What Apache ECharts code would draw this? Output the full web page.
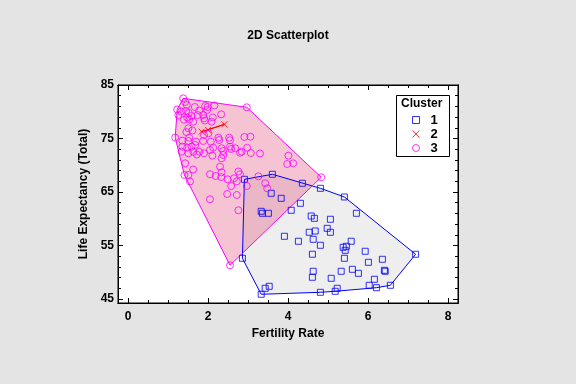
<!DOCTYPE html>
<html><head><meta charset="utf-8">
<script src="https://cdn.jsdelivr.net/npm/echarts@6/dist/echarts.min.js"></script>
<style>html,body{margin:0;padding:0;background:#e4e4e4}#c{width:576px;height:384px}</style>
</head><body><div id="c"></div>
<script>
const chartTitle = '2D Scatterplot';
const xName = 'Fertility Rate';
const yName = 'Life Expectancy (Total)';
const legendTitle = 'Cluster';
const clusterNames = ['1', '2', '3'];
const xTickLabels = [0, 2, 4, 6, 8];
const yTickLabels = [45, 55, 65, 75, 85];
const xMinorTicks = [0,0.5,1,1.5,2,2.5,3,3.5,4,4.5,5,5.5,6,6.5,7,7.5,8];
const yMinorTicks = [45,47,49,51,53,55,57,59,61,63,65,67,69,71,73,75,77,79,81,83,85];

// Cluster 1 (blue squares): [fertility, life expectancy]
const cluster1 = [
[2.91,67.37],[3.61,68.31],[4.36,66.63],[4.81,65.69],[5.41,64.07],[3.58,64.76],[3.83,63.82],[4.31,62.89],
[3.33,61.39],[3.36,61.02],[3.51,61.02],[4.08,61.58],[5.71,61.02],[4.58,60.51],[4.66,60.08],[5.06,59.90],
[4.98,58.21],[5.06,57.47],[4.53,57.47],[4.68,57.71],[3.91,56.72],[4.26,55.79],[4.63,56.16],[5.58,55.79],
[4.81,55.04],[5.38,54.66],[5.46,54.85],[5.43,54.10],[5.93,53.92],[4.61,53.36],[7.19,53.36],[2.86,52.61],
[5.41,52.61],[6.36,52.42],[6.01,51.86],[4.63,50.18],[5.33,50.18],[5.61,50.55],[5.76,49.80],[6.41,50.36],
[6.43,50.18],[4.61,49.06],[5.08,48.87],[6.16,48.68],[6.03,47.56],[6.56,47.56],[6.21,47.11],[3.53,47.37],
[3.43,47.00],[5.23,47.00],[5.18,46.44],[3.33,45.88],[4.81,46.25]
];
// Cluster 2 (red crosses)
const cluster2 = [[1.84,76.27],[2.00,76.60],[2.41,77.65]];
// Cluster 3 (magenta circles)
const cluster3 = [
[1.38,82.51],[1.43,81.82],[1.47,81.26],[1.67,80.89],[1.78,80.23],[1.93,81.07],[1.99,80.89],[2.16,81.17],
[1.98,80.33],[1.23,80.42],[1.33,80.05],[1.45,80.14],[1.52,79.77],[1.26,79.39],[1.48,78.93],[1.53,78.55],
[1.40,78.51],[1.88,79.39],[1.90,78.78],[1.92,78.36],[2.12,78.93],[2.33,79.52],[1.74,79.39],[2.97,80.83],
[1.63,78.14],[2.09,78.14],[1.59,79.21],[1.51,76.91],[1.61,76.50],[1.46,76.21],[1.18,75.19],[1.53,75.15],
[1.51,74.53],[2.01,75.97],[1.88,74.53],[2.26,75.15],[2.28,74.72],[2.53,75.15],[2.55,74.66],[2.91,75.28],
[3.06,75.34],[1.36,74.59],[2.07,74.40],[2.13,73.28],[1.70,74.40],[1.36,73.47],[1.48,73.28],[1.59,73.47],
[1.68,73.79],[1.63,72.53],[1.78,72.53],[1.90,72.23],[1.51,72.23],[1.34,72.53],[2.05,72.85],[2.34,73.17],
[2.38,72.66],[2.55,73.47],[2.58,73.04],[2.68,73.17],[2.84,72.53],[2.98,73.28],[3.07,72.29],[3.30,72.20],
[2.38,71.92],[2.34,71.30],[2.11,71.79],[1.72,72.01],[2.80,72.35],[4.01,71.79],[3.98,70.23],[4.13,70.36],
[1.43,70.36],[1.63,69.21],[1.41,68.18],[1.51,68.18],[2.05,68.31],[2.19,67.99],[2.34,68.68],[2.33,67.80],
[2.76,68.83],[2.80,68.31],[2.49,67.37],[2.65,67.56],[2.72,67.00],[3.26,67.93],[2.58,66.12],[2.97,66.12],
[3.43,66.63],[3.48,65.69],[4.83,67.75],[2.48,64.63],[2.72,64.44],[2.05,63.64],[2.76,61.58],[2.55,51.30],
[2.30,69.73],[1.55,66.96],[1.90,75.65]
];

function convexHull(pts) {
  const p = pts.slice().sort((a, b) => a[0] - b[0] || a[1] - b[1]);
  const cross = (o, a, b) => (a[0]-o[0])*(b[1]-o[1]) - (a[1]-o[1])*(b[0]-o[0]);
  const lower = [], upper = [];
  for (const q of p) { while (lower.length >= 2 && cross(lower[lower.length-2], lower[lower.length-1], q) <= 0) lower.pop(); lower.push(q); }
  for (let i = p.length - 1; i >= 0; i--) { const q = p[i]; while (upper.length >= 2 && cross(upper[upper.length-2], upper[upper.length-1], q) <= 0) upper.pop(); upper.push(q); }
  upper.pop(); lower.pop();
  return lower.concat(upper);
}

function hullSeries(pts, fill, stroke, z) {
  const h = convexHull(pts);
  return {
    type: 'custom', data: h, encode: { x: 0, y: 1 }, z: z, silent: true, clip: true,
    renderItem: function (params, api) {
      if (params.dataIndex !== 0) return null;
      return { type: 'polygon', shape: { points: h.map(p => api.coord(p)) },
        style: { fill: fill, stroke: stroke, lineWidth: 1 } };
    }
  };
}

const FONT = 'Arial, "Liberation Sans", sans-serif';
const XMIN = -0.25, XMAX = 8.25, YMIN = 44.25, YMAX = 85;

function xAx(pos, ticks, len, labels, named) {
  return {
    type: 'value', position: pos, min: XMIN, max: XMAX,
    axisLine: { show: true, onZero: false, lineStyle: { color: '#000', width: 1 } },
    axisTick: { show: true, inside: true, length: len, customValues: ticks, lineStyle: { color: '#000' } },
    axisLabel: labels ? { show: true, customValues: xTickLabels, margin: 8, fontFamily: FONT, fontWeight: 'bold', fontSize: 12, color: '#000' } : { show: false },
    splitLine: { show: false },
    name: named ? xName : '', nameLocation: 'middle', nameGap: 20,
    nameTextStyle: { fontFamily: FONT, fontWeight: 'bold', fontSize: 12, color: '#000' }
  };
}
function yAx(pos, ticks, len, labels, named) {
  return {
    type: 'value', position: pos, min: YMIN, max: YMAX,
    axisLine: { show: true, onZero: false, lineStyle: { color: '#000', width: 1 } },
    axisTick: { show: true, inside: true, length: len, customValues: ticks, lineStyle: { color: '#000' } },
    axisLabel: labels ? { show: true, customValues: yTickLabels, margin: 4, fontFamily: FONT, fontWeight: 'bold', fontSize: 12, color: '#000' } : { show: false },
    splitLine: { show: false },
    name: named ? yName : '', nameLocation: 'middle', nameGap: 19,
    nameTextStyle: { fontFamily: FONT, fontWeight: 'bold', fontSize: 12, color: '#000' }
  };
}

const chart = echarts.init(document.getElementById('c'), null, { renderer: 'canvas' });
chart.setOption({
  animation: false,
  backgroundColor: '#e4e4e4',
  title: { text: chartTitle, left: 'center', top: 25, textStyle: { fontFamily: FONT, fontWeight: 'bold', fontSize: 12, color: '#000' } },
  grid: { left: 118, right: 118, top: 85, bottom: 81, show: true, backgroundColor: '#fff', borderColor: '#000', borderWidth: 1 },
  xAxis: [xAx('bottom', xTickLabels, 5, true, true), xAx('bottom', xMinorTicks, 3, false, false),
          xAx('top', xTickLabels, 5, false, false), xAx('top', xMinorTicks, 3, false, false)],
  yAxis: [yAx('left', yTickLabels, 5, true, true), yAx('left', yMinorTicks, 3, false, false),
          yAx('right', yTickLabels, 5, false, false), yAx('right', yMinorTicks, 3, false, false)],
  legend: {
    orient: 'vertical', left: 407, top: 108, itemWidth: 7, itemHeight: 7, itemGap: 0, z: 200,
    data: clusterNames,
    itemStyle: { borderWidth: 1 },
    textStyle: { fontFamily: FONT, fontWeight: 'bold', fontSize: 13, color: '#000', lineHeight: 14, padding: [0, 0, 0, 6] }
  },
  graphic: [
    { type: 'rect', left: 396, top: 95, z: 50, shape: { width: 53, height: 61 }, style: { fill: '#fff', stroke: '#000', lineWidth: 1 } },
    { type: 'text', left: 401, top: 98, z: 51, style: { text: legendTitle, fontFamily: FONT, fontWeight: 'bold', fontSize: 12, fill: '#000' } }
  ],
  series: [
    hullSeries(cluster1, '#eeeeee', null, 1),
    hullSeries(cluster3, 'rgba(222,55,105,0.3)', null, 2),
    hullSeries(cluster1, 'none', '#0000ff', 3),
    hullSeries(cluster3, 'none', '#ff00ff', 3),
    hullSeries(cluster2, 'none', '#ff0000', 3),
    { name: '1', type: 'scatter', data: cluster1, symbol: 'rect', symbolSize: 6, z: 5,
      itemStyle: { color: 'rgba(0,0,0,0)', borderColor: '#0000ff', borderWidth: 1 } },
    { name: '2', type: 'scatter', data: cluster2, symbol: 'path://M0,0L10,10M10,0L0,10', symbolSize: 6, z: 5,
      itemStyle: { color: 'rgba(0,0,0,0)', borderColor: '#ff0000', borderWidth: 1 } },
    { name: '3', type: 'scatter', data: cluster3, symbol: 'circle', symbolSize: 7, z: 5,
      itemStyle: { color: 'rgba(0,0,0,0)', borderColor: '#ff00ff', borderWidth: 1 } }
  ]
});
</script>
</body></html>
